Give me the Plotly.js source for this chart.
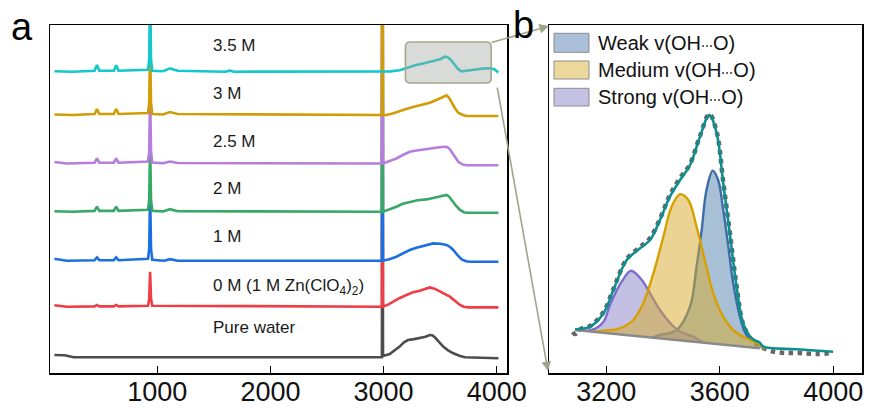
<!DOCTYPE html>
<html>
<head>
<meta charset="utf-8">
<script src="https://cdn.plot.ly/plotly-3.0.1.min.js"></script>
<style>html,body{margin:0;padding:0;background:#fff;}#chart{width:871px;height:408px;}</style>
</head>
<body>
<div id="chart"></div>
<script>
// ---------- Panel a: stacked Raman spectra (intensity above each baseline) ----------
const concLabels = ["Pure water", "0 M (1 M Zn(ClO<sub>4</sub>)<sub>2</sub>)", "1 M", "2 M", "2.5 M", "3 M", "3.5 M"];
const seriesColors = ["#4d4d4d", "#f03c46", "#1b6fe3", "#38a866", "#b67ddf", "#d29c06", "#12c8ca"];
const offsets = [15.7, 66.3, 112.3, 161.3, 209.5, 258, 301.3];

const xWater = [90, 180, 260, 2985, 2990, 2995, 3054, 3100, 3142, 3180, 3216, 3270, 3320, 3370, 3409, 3430, 3453, 3490, 3527, 3570, 3616, 3670, 3719, 4015];
const yWater = [2.3, 2, 0, 0, 300, 1.3, 3.3, 7, 10.7, 15, 17.3, 18.2, 19, 20.5, 22.3, 22, 20, 15, 10.7, 7, 4, 1.5, 0, -1];

const x0M = [90, 200, 445, 466, 487, 615, 636, 657, 918, 928, 936, 944, 955, 2985, 2990, 2995, 3040, 3084, 3140, 3202, 3260, 3320, 3370, 3409, 3450, 3497, 3540, 3586, 3630, 3675, 3710, 3749, 4015];
const y0M = [1.5, 0, 0.3, 1.7, 0.3, 0.3, 1.7, 0.3, 1, 8, 35, 8, 1, 0, 400, 0, 2, 5, 8.5, 11.7, 14.5, 16, 18, 19.3, 18, 15, 12.5, 10, 6, 1.7, 0, -0.7, -0.7];

const x1M = [90, 200, 445, 466, 487, 615, 636, 657, 918, 928, 936, 944, 955, 1060, 1112, 1180, 2985, 2990, 2995, 3050, 3113, 3170, 3231, 3290, 3349, 3400, 3438, 3500, 3557, 3590, 3616, 3650, 3690, 3730, 3763, 4015];
const y1M = [2, 0, 0.5, 3.3, 0.5, 0.5, 3.3, 0.5, 2, 12, 70, 12, 1, 0, 1.5, 0, 0, 400, 0, 1.5, 4, 7.5, 10.7, 13, 14.7, 16.5, 17.3, 17, 15.7, 13.5, 10.7, 6, 1.3, -0.5, -1, -1];

const x2M = [90, 250, 445, 466, 487, 615, 636, 657, 918, 928, 936, 944, 955, 1050, 1112, 1180, 2985, 2990, 2995, 3050, 3113, 3170, 3231, 3300, 3379, 3430, 3482, 3530, 3557, 3580, 3601, 3640, 3675, 3710, 3734, 4015];
const y2M = [0.5, 0, 0.8, 5, 0.8, 0.8, 5, 0.8, 2, 12, 70, 12, 1, 0.3, 2.5, 0.5, 0, 400, 0, 2, 5, 8, 10, 11.5, 12.3, 13.5, 15, 16, 16.7, 15, 11.7, 6, 1.7, -0.5, -1, -1];

const x25M = [90, 200, 445, 466, 487, 615, 636, 657, 918, 928, 936, 944, 955, 1050, 1112, 1180, 2985, 2990, 2995, 3050, 3113, 3170, 3231, 3290, 3349, 3400, 3453, 3510, 3557, 3580, 3601, 3630, 3660, 3700, 3734, 4015];
const y25M = [1.5, 0, 0.8, 5, 0.8, 0.8, 5, 0.8, 2, 12, 70, 12, 1, 0.3, 2, 0.5, 0, 400, 0, 2, 5, 8.5, 11.7, 13, 14, 15, 16, 16.5, 16.7, 15, 11.7, 6.5, 1.7, -1, -1.7, -1.7];

const x3M = [90, 250, 445, 466, 487, 615, 636, 657, 918, 928, 936, 944, 955, 1050, 1112, 1180, 2985, 2990, 2995, 3025, 3080, 3142, 3200, 3261, 3330, 3409, 3482, 3530, 3557, 3580, 3601, 3630, 3660, 3700, 3734, 4015];
const y3M = [0.5, 0, 1, 6, 1, 1, 6, 1, 2, 12, 70, 12, 1, 0.5, 3, 1, 0, 400, 0, 0, 1.5, 4, 6, 8, 10, 12.3, 15.7, 18, 19.7, 17, 12.3, 7, 2.3, 0, -1, -1];

const x35M = [90, 250, 445, 466, 487, 615, 636, 657, 918, 928, 936, 944, 955, 1050, 1112, 1180, 1600, 1640, 1680, 2995, 3060, 3142, 3202, 3280, 3349, 3438, 3500, 3542, 3571, 3600, 3630, 3660, 3690, 3720, 3763, 3852, 3900, 3940, 3980, 4015];
const y35M = [0.5, 0, 1, 6.7, 1, 1, 6.5, 1, 2, 12, 90, 12, 1, 0.5, 3.3, 1, 0, 1, 0, 0, 0.3, 1.5, 4, 6.5, 8.3, 10.7, 12.5, 15, 14.3, 11, 6.7, 2.5, 0.3, 0.8, 1.7, 3, 3.5, 3.3, 2.5, -0.7];

const spectraX = [xWater, x0M, x1M, x2M, x25M, x3M, x35M];
const spectraY = [yWater, y0M, y1M, y2M, y25M, y3M, y35M];

// ---------- Panel b: O-H stretching fit (3.5 M) ----------
const xRaw = [3082, 3090, 3110, 3143, 3190, 3225, 3272, 3319, 3354, 3389, 3424, 3460, 3495, 3530, 3563, 3589, 3612, 3635, 3659, 3682, 3712, 3741, 3780, 3830, 3880, 3940, 3999];
const yRaw = [40, 38, 43, 46, 60, 83, 113, 125, 134, 153, 177, 194, 208, 236, 258, 240, 190, 140, 86, 48, 32, 26, 21, 19, 19, 18, 19];

const xFit = [3090, 3143, 3190, 3225, 3272, 3319, 3354, 3389, 3424, 3460, 3495, 3530, 3563, 3589, 3612, 3635, 3659, 3682, 3712, 3741, 3753, 3870, 3999];
const yFit = [42.7, 45.3, 58.7, 82, 112, 123.7, 132, 152, 175.3, 192, 207, 235.3, 257, 238.7, 188.7, 138.7, 85.3, 48.7, 33.7, 29.3, 25.3, 22.7, 20.3];

const xBase = [3090, 3741];
const yBase = [42, 23.7];

const xWeak = [3360, 3389, 3448, 3495, 3518, 3536, 3553, 3575, 3594, 3612, 3630, 3647, 3671, 3694, 3729, 3760];
const yWeak = [34.4, 37, 42, 65.3, 105.3, 142, 182, 201.3, 192, 162, 125.3, 88.7, 55.3, 37, 29.3, 23.2];

const xMedium = [3150, 3190, 3248, 3295, 3330, 3366, 3401, 3430, 3460, 3489, 3518, 3547, 3577, 3612, 3647, 3694, 3729, 3760];
const yMedium = [40.3, 41.3, 43.7, 52, 68.7, 98.7, 135.3, 165.3, 177.7, 172, 145.3, 112, 78.7, 55.3, 42, 33.7, 29.3, 23.2];

const xStrong = [3100, 3149, 3190, 3213, 3254, 3287, 3325, 3354, 3389, 3424, 3460, 3506, 3540];
const yStrong = [41.7, 42, 50.3, 67, 90.3, 101.3, 92, 78.7, 62, 49.3, 40.3, 35.3, 29.4];

const dots = '<span style="font-size:12px">⋯</span>';
const legendNames = ["Weak v(OH" + dots + "O)", "Medium v(OH" + dots + "O)", "Strong v(OH" + dots + "O)"];
const legendFills = ["#a9c0d8", "#ecd89c", "#c5c1e5"];

const ticksA = [1000, 2000, 3000, 4000];
const ticksB = [3200, 3600, 4000];

// ---------- build ----------
const W = 871, H = 408;
const px = v => v / W;
const py = v => 1 - v / H;
const FONT = "Liberation Sans, Arial, sans-serif";

const traces = [];
for (let i = 0; i < spectraX.length; i++) {
  traces.push({
    x: spectraX[i],
    y: spectraY[i].map(v => v + offsets[i]),
    type: "scatter", mode: "lines",
    line: {color: seriesColors[i], width: 2.6},
    xaxis: "x", yaxis: "y", hoverinfo: "skip", showlegend: false
  });
}

traces.push({x: xRaw, y: yRaw, type: "scatter", mode: "lines",
  line: {color: "#666", width: 4.5, dash: "dot", shape: "spline"}, xaxis: "x2", yaxis: "y2", showlegend: false});
traces.push({x: xWeak, y: yWeak, type: "scatter", mode: "lines", fill: "toself",
  fillcolor: "rgba(81,129,173,0.5)", line: {color: "#3d6ea6", width: 2.4, shape: "spline"},
  xaxis: "x2", yaxis: "y2", showlegend: false});
traces.push({x: xStrong, y: yStrong, type: "scatter", mode: "lines", fill: "toself",
  fillcolor: "rgba(137,129,201,0.5)", line: {color: "#7a6fcf", width: 2.4, shape: "spline"},
  xaxis: "x2", yaxis: "y2", showlegend: false});
traces.push({x: xMedium, y: yMedium, type: "scatter", mode: "lines", fill: "toself",
  fillcolor: "rgba(215,170,40,0.5)", line: {color: "#d6a100", width: 2.4, shape: "spline"},
  xaxis: "x2", yaxis: "y2", showlegend: false});
traces.push({x: xBase, y: yBase, type: "scatter", mode: "lines",
  line: {color: "#8a8a8a", width: 2.5}, xaxis: "x2", yaxis: "y2", showlegend: false});
traces.push({x: xFit, y: yFit, type: "scatter", mode: "lines",
  line: {color: "#0e8e8e", width: 2.6, shape: "spline"}, xaxis: "x2", yaxis: "y2", showlegend: false});

const axisCommon = {
  showline: true, linecolor: "#000", linewidth: 1.5, mirror: true,
  ticks: "inside", ticklen: 7, tickwidth: 1.2, tickcolor: "#000",
  showgrid: false, zeroline: false, fixedrange: true,
  tickfont: {family: FONT, size: 27, color: "#111"}
};

const yDom = [1 - 373 / H, 1 - 25 / H];

// rounded highlight box in panel a
const bx0 = 3193, bx1 = 3951, by0 = 290, by1 = 331, rx = 44, ry = 5;
const boxPath = `M ${bx0 + rx},${by1} L ${bx1 - rx},${by1} Q ${bx1},${by1} ${bx1},${by1 - ry} L ${bx1},${by0 + ry} Q ${bx1},${by0} ${bx1 - rx},${by0} L ${bx0 + rx},${by0} Q ${bx0},${by0} ${bx0},${by0 + ry} L ${bx0},${by1 - ry} Q ${bx0},${by1} ${bx0 + rx},${by1} Z`;

const shapes = [{
  type: "path", path: boxPath, xref: "x", yref: "y", layer: "above",
  fillcolor: "rgba(160,165,160,0.4)", line: {color: "#a3a88e", width: 1.6}
}];
const legendRows = [[33.3, 52.3], [61, 79], [88.3, 106]];
legendRows.forEach((r, i) => shapes.push({
  type: "rect", xref: "paper", yref: "paper",
  x0: px(554), x1: px(589), y0: py(r[1]), y1: py(r[0]),
  fillcolor: legendFills[i], line: {color: "#8c8c8c", width: 1}
}));

const annotations = [];
const labelY = [46, 86, 137, 185, 232, 280, 328];
concLabels.forEach((t, i) => annotations.push({
  text: t, x: 1475, y: labelY[i], xref: "x", yref: "y", xanchor: "left", yanchor: "middle",
  showarrow: false, font: {family: FONT, size: 17, color: "#1a1a1a"}
}));
legendNames.forEach((t, i) => annotations.push({
  text: t, x: px(596), y: py((legendRows[i][0] + legendRows[i][1]) / 2), xref: "paper", yref: "paper",
  xanchor: "left", yanchor: "middle", showarrow: false, font: {family: FONT, size: 20, color: "#111"}
}));
annotations.push({x: px(549), y: py(26), xref: "paper", yref: "paper", ax: -59, ay: 17, text: "",
  showarrow: true, arrowhead: 2, arrowsize: 1.2, arrowwidth: 1.6, arrowcolor: "#9ea58a", standoff: 0});
annotations.push({x: px(548), y: py(371), xref: "paper", yref: "paper", ax: -51, ay: -285, text: "",
  showarrow: true, arrowhead: 2, arrowsize: 1.2, arrowwidth: 1.6, arrowcolor: "#9ea58a", standoff: 0});
annotations.push({text: "a", x: px(9), y: py(27), xref: "paper", yref: "paper", xanchor: "left", yanchor: "middle",
  showarrow: false, font: {family: FONT, size: 38, color: "#000"}});
annotations.push({text: "b", x: px(511), y: py(25), xref: "paper", yref: "paper", xanchor: "left", yanchor: "middle",
  showarrow: false, font: {family: FONT, size: 38, color: "#000"}});

const layout = {
  width: W, height: H,
  margin: {l: 0, r: 0, t: 0, b: 0},
  paper_bgcolor: "#fff", plot_bgcolor: "rgba(0,0,0,0)",
  showlegend: false,
  xaxis: Object.assign({}, axisCommon, {domain: [px(50), px(507)], range: [51, 4091],
    tickvals: ticksA, ticktext: ticksA.map(String), anchor: "y", ticklabelstandoff: -6}),
  yaxis: Object.assign({}, axisCommon, {domain: yDom, range: [0, 348], ticks: "", showticklabels: false, anchor: "x"}),
  xaxis2: Object.assign({}, axisCommon, {domain: [px(549), px(862)], range: [2998, 4101],
    tickvals: ticksB, ticktext: ticksB.map(String), anchor: "y2", ticklabelstandoff: -6}),
  yaxis2: Object.assign({}, axisCommon, {domain: yDom, range: [-1, 347], ticks: "", showticklabels: false, anchor: "x2"}),
  shapes: shapes,
  annotations: annotations
};

Plotly.newPlot("chart", traces, layout, {displayModeBar: false, staticPlot: true});
</script>
</body>
</html>
